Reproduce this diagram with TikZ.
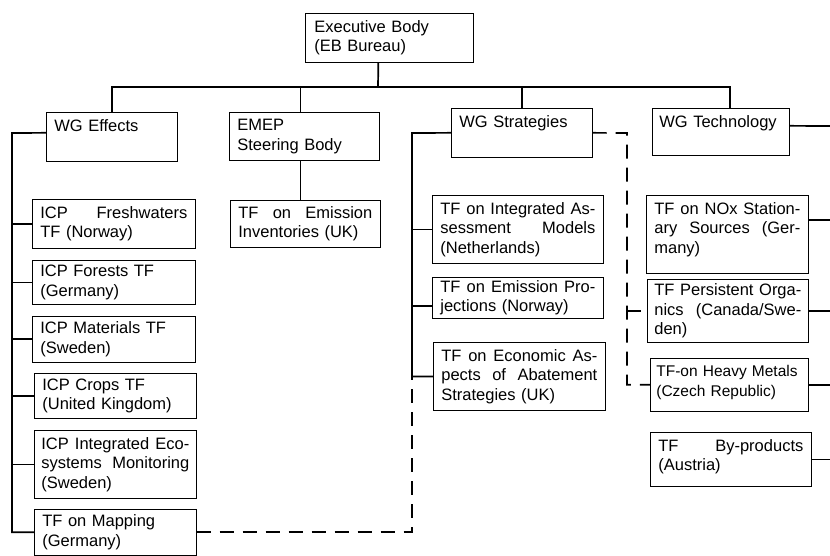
\documentclass[tikz,border=0pt]{standalone}
\usepackage{fontspec}
\setmainfont{Liberation Sans}
\usepackage{tikz}
\usetikzlibrary{positioning,calc}
\newcommand{\jgap}{\hskip 0.28em plus 1fill\relax}
\tikzset{
    box/.style={draw, line width=0.7pt, anchor=north west, align=left,
        inner xsep=8pt, inner ysep=7pt, font=\fontsize{16.5}{19.5}\selectfont},
    link/.style={line width=1.7pt},
    dashlink/.style={line width=1.7pt, dash pattern=on 14pt off 9pt}
}
\begin{document}
\begin{tikzpicture}[x=1pt, y=-1pt]
    \useasboundingbox (0,0) rectangle (830,555);

    \node[box, text width=150pt, inner xsep=9pt] (EB) at (305,13) {Executive Body\\(EB Bureau)};

    \node[box, text width=115pt] (WGE) at (46,112) {WG Effects\rule[-23pt]{0pt}{23pt}};
    \node[box, text width=134pt] (EMEP) at (229,112) {EMEP\\Steering Body};
    \node[box, text width=125pt] (WGS) at (451,108) {WG Strategies\rule[-23pt]{0pt}{23pt}};
    \node[box, text width=123pt, inner xsep=7pt] (WGT) at (652,108) {WG Technology\rule[-21pt]{0pt}{21pt}};

    \node[box, text width=147pt] (ICPF) at (32,199) {ICP\jgap Freshwaters\\TF (Norway)};
    \node[box, text width=147pt, inner ysep=5pt] (ICPFo) at (32,260) {ICP Forests TF\\(Germany)};
    \node[box, text width=147pt, inner ysep=5.5pt] (ICPM) at (32,316) {ICP Materials TF\\(Sweden)};
    \node[box, text width=146pt, inner ysep=5.5pt] (ICPC) at (34,373) {ICP Crops TF\\(United Kingdom)};
    \node[box, text width=148pt, inner xsep=7pt] (ICPI) at (34,430) {ICP\jgap Integrated\jgap Eco-\\systems\jgap Monitoring\\(Sweden)};
    \node[box, text width=146pt, inner ysep=5.5pt] (TFM) at (34,509) {TF on Mapping\\(Germany)};

    \node[box, text width=134pt, inner ysep=6pt] (TFEI) at (230,200) {TF\jgap on\jgap Emission\\Inventories (UK)};

    \node[box, text width=155pt] (TFIA) at (432,195) {TF\jgap on\jgap Integrated\jgap As-\\sessment\jgap Models\\(Netherlands)};
    \node[box, text width=155pt, inner ysep=3pt] (TFEP) at (432,277) {TF\jgap on\jgap Emission\jgap Pro-\\jections (Norway)};
    \node[box, text width=156pt] (TFEA) at (433,342) {TF\jgap on\jgap Economic\jgap As-\\pects\jgap of\jgap Abatement\\Strategies (UK)};

    \node[box, text width=146pt] (TFNOx) at (646,195) {TF\jgap on\jgap NOx\jgap Station-\\ary\jgap Sources\jgap (Ger-\\many)\rule[-13pt]{0pt}{13pt}};
    \node[box, text width=147pt, inner xsep=7pt, inner ysep=4.5pt] (TFPO) at (647,279) {TF\jgap Persistent\jgap Orga-\\nics\jgap (Canada/Swe-\\den)};
    \node[box, text width=146pt, inner xsep=6pt, font=\fontsize{15.5}{19.5}\selectfont] (TFHM) at (650,358) {TF-on Heavy Metals\\(Czech Republic)\rule[-8pt]{0pt}{8pt}};
    \node[box, text width=145pt] (TFBP) at (650,432) {TF\jgap By-products\\(Austria)\rule[-9pt]{0pt}{9pt}};

    \coordinate (bus) at (378,87);
    \coordinate (effT) at (12,133);
    \coordinate (strT) at (412,133);
    \coordinate (dsh) at (627,133);
    \coordinate (techR) at (830,126);
    \coordinate (ebS) at ([xshift=-11pt]EB.south);
    \coordinate (emN) at ([xshift=-4pt]EMEP.north);
    \coordinate (emS) at ([xshift=-4pt]EMEP.south);
    \coordinate (wtN) at ([xshift=9pt]WGT.north);
    \coordinate (wtE) at ([yshift=6pt]WGT.east);
    \coordinate (weW) at ([yshift=4pt]WGE.west);
    \coordinate (epW) at ([yshift=-8pt]TFEP.west);
    \coordinate (noE) at ([yshift=14pt]TFNOx.east);

    \draw[link] (ebS) -- (bus);
    \draw[link] (WGE.north) |- (bus) -| (wtN);
    \draw[link] (emN) -- (emN |- bus);
    \draw[link] (WGS.north) -- (WGS.north |- bus);
    \draw[link] (emS) -- (emS |- TFEI.north);

    \draw[link] (weW) -- (effT) -- (effT |- TFM.west) -- (TFM.west);
    \foreach \b in {ICPF,ICPFo,ICPM,ICPC,ICPI}
        \draw[link] (\b.west) -- (effT |- \b.west);

    \draw[link] (WGS.west) -- (strT) -- (strT |- TFEA.west) -- (TFEA.west);
    \draw[link] (TFIA.west) -- (strT |- TFIA.west);
    \draw[link] (epW) -- (strT |- epW);

    \draw[dashlink] (TFM.east) -| (strT |- TFEA.west);
    \draw[dashlink] (WGS.east) -- (dsh) |- (TFHM.west);
    \draw[dashlink] (dsh |- TFPO.west) -- (TFPO.west);

    \draw[link] (wtE) -- (techR);
    \draw[link] (noE) -- (techR |- noE);
    \foreach \b in {TFPO,TFHM,TFBP}
        \draw[link] (\b.east) -- (techR |- \b.east);
\end{tikzpicture}
\end{document}
